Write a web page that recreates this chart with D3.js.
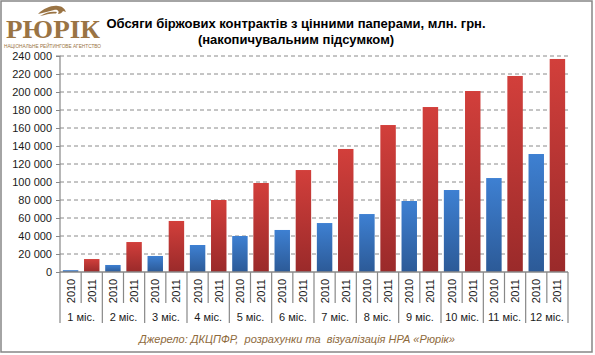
<!DOCTYPE html>
<html><head><meta charset="utf-8">
<script src="https://cdn.jsdelivr.net/npm/d3@7/dist/d3.min.js"></script>
<style>
html,body{margin:0;padding:0;background:#fff;}
svg{display:block;font-family:Arial,"Liberation Sans",sans-serif;}
</style></head>
<body>
<svg id="c" width="595" height="355"></svg>
<script>
const months = ["1 міс.","2 міс.","3 міс.","4 міс.","5 міс.","6 міс.","7 міс.","8 міс.","9 міс.","10 міс.","11 міс.","12 міс."];
const years = ["2010","2011"];
const values2010 = [2000, 7800, 17800, 30000, 40000, 46700, 54400, 64400, 78900, 91100, 104400, 131100];
const values2011 = [14400, 33300, 56700, 80000, 98900, 113300, 136700, 163300, 183300, 201100, 217800, 236700];
const yTicks = [0,20000,40000,60000,80000,100000,120000,140000,160000,180000,200000,220000,240000];
const titleLines = ["Обсяги біржових контрактів з цінними паперами, млн. грн.","(накопичувальним підсумком)"];
const sourceText = "Джерело: ДКЦПФР,  розрахунки та  візуалізація НРА «Рюрік»";

const svg = d3.select("#c");
const pL = 60, pR = 568, pT = 56, pB = 272;

// border
svg.append("rect").attr("x",1).attr("y",1).attr("width",591).attr("height",351)
  .attr("fill","#fff").attr("stroke","#868686").attr("stroke-width",1.5);

// gradients
const defs = svg.append("defs");
function grad(id, c1, c2){
  const g = defs.append("linearGradient").attr("id",id).attr("x1",0).attr("y1",0).attr("x2",0).attr("y2",1);
  g.append("stop").attr("offset","0%").attr("stop-color",c1);
  g.append("stop").attr("offset","100%").attr("stop-color",c2);
}
grad("g2010","#3e80d2","#2c5a97");
grad("g2011","#d23f3b","#9a2a2a");

const x0 = d3.scaleBand().domain(months).range([pL,pR]).padding(0);
const x1 = d3.scaleBand().domain(years).range([0,x0.bandwidth()]).paddingInner(0.27).paddingOuter(0.135);
const y = d3.scaleLinear().domain([0,240000]).range([pB,pT]);
const loc = d3.formatLocale({decimal:",",thousands:"\u00a0",grouping:[3],currency:["",""]});
const fmt = loc.format(",d");

// gridlines
svg.append("g").selectAll("line").data(yTicks.filter(d=>d>0)).join("line")
  .attr("x1",pL).attr("x2",pR).attr("y1",d=>y(d)).attr("y2",d=>y(d))
  .attr("stroke","#8a8a8a").attr("stroke-width",1).attr("stroke-dasharray","4,3");

// y axis
const yAxis = d3.axisLeft(y).tickValues(yTicks).tickFormat(fmt).tickSize(4).tickPadding(4);
const ya = svg.append("g").attr("transform",`translate(${pL},0)`).call(yAxis);
ya.select(".domain").attr("stroke","#888").attr("stroke-width",1.2).attr("d",`M-4,${pT}H0V${pB}`);
ya.selectAll(".tick line").attr("stroke","#888");
ya.selectAll(".tick text").attr("font-size","11px").attr("fill","#1a1a1a").attr("font-family","Arial");

// bars
const data = [];
months.forEach((m,i)=>{ data.push({m, yr:"2010", v:values2010[i]}); data.push({m, yr:"2011", v:values2011[i]}); });
svg.append("g").selectAll("rect").data(data).join("rect")
  .attr("x",d=>x0(d.m)+x1(d.yr)).attr("width",x1.bandwidth())
  .attr("y",d=>y(d.v)).attr("height",d=>y(0)-y(d.v))
  .attr("fill",d=>`url(#g${d.yr})`);

// x axis line
svg.append("line").attr("x1",pL).attr("x2",pR).attr("y1",pB).attr("y2",pB)
  .attr("stroke","#888").attr("stroke-width",1.5);

// separators
const sep = svg.append("g").attr("stroke","#888").attr("stroke-width",1.2);
months.forEach((m,i)=>{
  const xs = x0(m);
  sep.append("line").attr("x1",xs).attr("x2",xs).attr("y1",pB).attr("y2",323);
  const xm = xs + x0.bandwidth()/2;
  sep.append("line").attr("x1",xm).attr("x2",xm).attr("y1",pB).attr("y2",303);
});
sep.append("line").attr("x1",pR).attr("x2",pR).attr("y1",pB).attr("y2",323);

// year labels
svg.append("g").selectAll("text").data(data).join("text")
  .attr("transform",d=>`translate(${x0(d.m)+x0.bandwidth()/4*(d.yr==="2010"?1:3)+4},291) rotate(-90)`)
  .attr("text-anchor","middle").attr("font-size","11px").attr("fill","#1a1a1a")
  .text(d=>d.yr);

// month labels
svg.append("g").selectAll("text").data(months).join("text")
  .attr("x",d=>x0(d)+x0.bandwidth()/2).attr("y",320.5)
  .attr("text-anchor","middle").attr("font-size","11px").attr("fill","#1a1a1a")
  .text(d=>d);

// title
svg.append("g").selectAll("text").data(titleLines).join("text")
  .attr("x",296).attr("y",(d,i)=>28+i*16)
  .attr("text-anchor","middle").attr("font-size","13px").attr("font-weight","bold").attr("fill","#000")
  .text(d=>d);

// source
svg.append("text").attr("x",297).attr("y",343).attr("text-anchor","middle")
  .style("white-space","pre")
  .attr("font-size","11px").attr("font-style","italic").attr("fill","#8e6a3c").text(sourceText);

// logo
const logo = svg.append("g").attr("fill","#9a7444");
logo.append("text").attr("x",6).attr("y",38).attr("font-family","'Liberation Serif','DejaVu Serif',serif")
  .attr("font-weight","bold").attr("font-size","26px").attr("textLength",94).attr("lengthAdjust","spacingAndGlyphs")
  .text("РЮРІК");
logo.append("text").attr("x",4).attr("y",47.5).attr("font-size","4.6px").attr("textLength",97)
  .attr("lengthAdjust","spacingAndGlyphs").text("НАЦІОНАЛЬНЕ РЕЙТИНГОВЕ АГЕНТСТВО");
// eagle head (decorative)
logo.append("path").attr("d","M38,14 C44,8 52,5 58,6 C62,6 65,9 66,12 L63,11 C62,13 60,14 58,14 C60,11 57,9 54,10 C49,11 44,13 38,14 Z");
logo.append("path").attr("d","M40,16 C46,12 52,11 57,12 L56,13.5 C51,13 46,14.5 40,16 Z");
</script>
</body></html>
